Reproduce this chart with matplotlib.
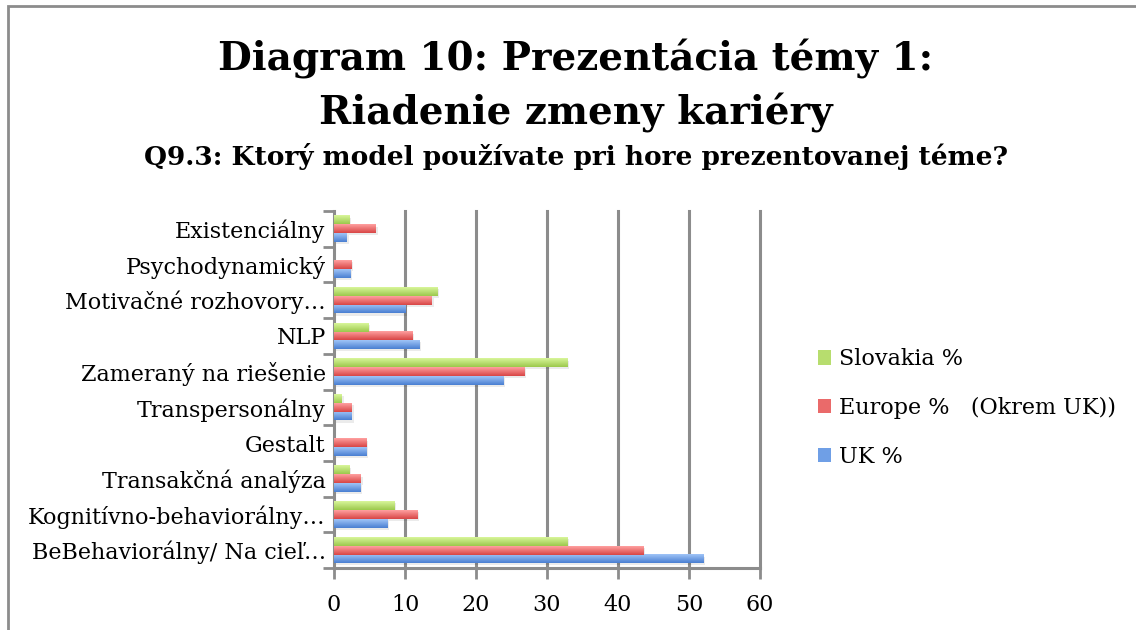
import numpy as np
import matplotlib.pyplot as plt
from matplotlib.colors import LinearSegmentedColormap
from matplotlib.patches import Rectangle

# ── Data (bottom to top as drawn) ─────────────────────────────
categories = [
    "BeBehaviorálny/ Na cieľ…",
    "Kognitívno-behaviorálny…",
    "Transakčná analýza",
    "Gestalt",
    "Transpersonálny",
    "Zameraný na riešenie",
    "NLP",
    "Motivačné rozhovory…",
    "Psychodynamický",
    "Existenciálny",
]
uk_pct       = [52.0, 7.5, 3.7, 4.6, 2.5, 23.9, 12.0, 10.1, 2.3, 1.8]
europe_pct   = [43.6, 11.7, 3.8, 4.6, 2.5, 26.8, 11.0, 13.8, 2.4, 5.9]
slovakia_pct = [32.9, 8.5, 2.2, 0.0, 1.1, 32.9, 4.8, 14.6, 0.0, 2.2]

series_names = ["UK %", "Europe %   (Okrem UK))", "Slovakia %"]
x_ticks = [0, 10, 20, 30, 40, 50, 60]
# ───────────────────────────────────────────────────────────────

plt.rcParams["font.family"] = ["DejaVu Serif"]
GRID = "#8c8c8c"

# top colour, bottom colour for each series
grad = [("#9fc4f7", "#4a7fd2"), ("#ff9f9f", "#d84646"), ("#d8f59a", "#9cc94c")]
mid = ["#6f9fe6", "#ea6a6a", "#b7dd6e"]

fig = plt.figure(figsize=(11.36, 6.3), dpi=100)
ax = fig.add_axes([334 / 1136, 1 - 568 / 630, (760 - 334) / 1136, (568 - 211) / 630])

y = np.arange(len(categories))
h = 0.245
data = [uk_pct, europe_pct, slovakia_pct]
for i, vals in enumerate(data):
    bars = ax.barh(y + (i - 1) * h, vals, height=h, color=mid[i], label=series_names[i], zorder=3)
    cmap = LinearSegmentedColormap.from_list("g%d" % i, [grad[i][1], grad[i][0]])
    g = np.linspace(0, 1, 32).reshape(-1, 1)
    for p in bars:
        if p.get_width() <= 0:
            continue
        x0, y0 = p.get_x(), p.get_y()
        x1, y1 = x0 + p.get_width(), y0 + p.get_height()
        # soft shadow
        ax.add_patch(Rectangle((x0 + 0.25, y0 - 0.06), p.get_width(), p.get_height(),
                               color="#000000", alpha=0.08, lw=0, zorder=2))
        ax.imshow(g, extent=[x0, x1, y0, y1], cmap=cmap, aspect="auto",
                  origin="lower", zorder=4, interpolation="bilinear")

ax.set_xlim(0, 60)
ax.set_ylim(-0.5, len(categories) - 0.5)
ax.set_aspect("auto")
ax.set_xticks(x_ticks)
ax.set_xticklabels([str(t) for t in x_ticks], fontsize=16)
ax.set_yticks(y)
ax.set_yticklabels(categories, fontsize=16)
ax.set_yticks(np.arange(len(categories) + 1) - 0.5, minor=True)
ax.tick_params(axis="y", which="major", length=0, pad=6)
ax.tick_params(axis="y", which="minor", length=8, width=2, color=GRID)
ax.tick_params(axis="x", length=8, width=2, color=GRID, pad=11)

for t in x_ticks[1:]:
    ax.axvline(t, color=GRID, linewidth=2.2, zorder=1, clip_on=False)
for s in ["top", "right"]:
    ax.spines[s].set_visible(False)
for s in ["left", "bottom"]:
    ax.spines[s].set_color(GRID)
    ax.spines[s].set_linewidth(2.2)

handles, labels = ax.get_legend_handles_labels()
leg = fig.legend(handles[::-1], labels[::-1], loc="center left",
                 bbox_to_anchor=(798 / 1136, 1 - 408 / 630), frameon=False,
                 fontsize=16, handlelength=0.6, handleheight=0.6,
                 handletextpad=0.35, labelspacing=1.2)

fig.text(0.507, 1 - 59 / 630, "Diagram 10: Prezentácia témy 1:", ha="center", va="center",
         fontsize=28, fontweight="bold")
fig.text(0.507, 1 - 113 / 630, "Riadenie zmeny kariéry", ha="center", va="center",
         fontsize=28, fontweight="bold")
fig.text(0.507, 1 - 157 / 630, "Q9.3: Ktorý model používate pri hore prezentovanej téme?",
         ha="center", va="center", fontsize=19, fontweight="bold")

# outer frame
fig.add_artist(Rectangle((8 / 1136, -0.1), 1.2, 1.1 - 6 / 630, transform=fig.transFigure,
                         fill=False, edgecolor=GRID, linewidth=2))

fig.savefig("out.png", dpi=100)
